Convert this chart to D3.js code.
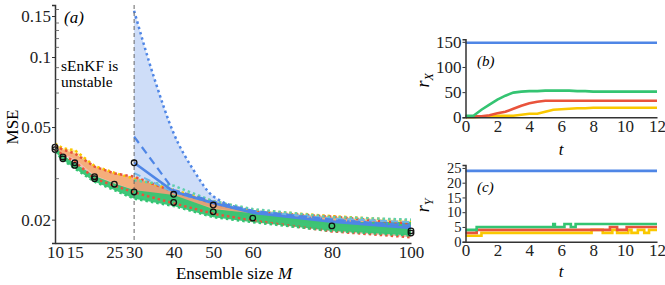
<!DOCTYPE html>
<html>
<head>
<meta charset="utf-8">
<script src="https://cdn.jsdelivr.net/npm/d3@7"></script>
<style>
  body { margin: 0; background: #fff; }
  .axis path, .axis line { stroke: #333; }
  .axis text { fill: #222; }
</style>
</head>
<body>
<div id="chart"></div>
<script>
// ensemble sizes
const ensembleM = [10, 12, 15, 20, 25, 30, 40, 50, 60, 80, 100];
const blueM = [30, 40, 50, 60, 80, 100];
const blueHiM = [30, 35, 40, 45, 50, 60, 80, 100];

// MSE envelopes per method
const yellowHi = [0.0425, 0.0405, 0.0398, 0.0340, 0.0318, 0.0300, 0.0268, 0.0240, 0.0220, 0.0207, 0.0198];
const yellowLo = [0.0405, 0.0385, 0.0365, 0.0310, 0.0288, 0.0268, 0.0240, 0.0218, 0.0205, 0.0188, 0.0178];
const redHi = [0.0415, 0.0400, 0.0385, 0.0338, 0.0316, 0.0306, 0.0264, 0.0235, 0.0216, 0.0206, 0.0192];
const redLo = [0.0400, 0.0380, 0.0355, 0.0300, 0.0280, 0.0262, 0.0235, 0.0212, 0.0198, 0.0178, 0.0168];
const greenHi = [0.0412, 0.0379, 0.0350, 0.0308, 0.0286, 0.0268, 0.0255, 0.0222, 0.0213, 0.0195, 0.0196];
const greenLo = [0.0392, 0.0361, 0.0332, 0.0291, 0.0268, 0.0246, 0.0229, 0.0205, 0.0195, 0.0179, 0.0171];
const tealDot = [0.0295, 0.0280, 0.0240, 0.0222, 0.0205, 0.0200];
const tealDash = [0.0317, 0.0262, 0.0235, 0.0218, 0.0202, 0.0195];
const blueHi = [0.158, 0.082, 0.047, 0.0327, 0.0252, 0.0218, 0.0200, 0.0190];
const blueLo = [0.0270, 0.0250, 0.0225, 0.0212, 0.0196, 0.0185];
const blueDash = [0.0455, 0.0268, 0.0239, 0.0218, 0.0200, 0.0188];
const blueSolid = [0.0351, 0.0264, 0.0236, 0.0214, 0.0196, 0.0184];

// marked points
const circleM = [10, 10, 12, 12, 15, 15, 20, 20, 25, 30, 30, 40, 40, 50, 50, 60, 80, 100, 100];
const circleV = [0.0410, 0.0400, 0.0372, 0.0365, 0.0351, 0.0342, 0.0306, 0.0300, 0.0284, 0.0351, 0.0263,
  0.0257, 0.0237, 0.0231, 0.0216, 0.0203, 0.0188, 0.0179, 0.0175];

const mTicks = [10, 15, 25, 30, 40, 50, 60, 80, 100];
const mseTicks = [0.02, 0.05, 0.1, 0.15];
const mseMinor = [0.03, 0.04, 0.06, 0.07, 0.08, 0.09, 0.11, 0.12, 0.13, 0.14, 0.16];

// panel (b): r_X over time
const tB = [0, 0.5, 1, 1.5, 2, 2.5, 3, 3.5, 4, 4.5, 5, 5.5, 6, 6.5, 7, 7.5, 8, 8.5, 9, 9.5, 10, 10.5, 11, 11.5, 12];
const rxGreen = [3, 3, 15, 25, 35, 43, 49, 51, 52, 52, 53, 53, 53, 53, 52, 52, 51, 51, 51, 51, 51, 51, 51, 51, 51];
const rxRed = [2, 2, 2, 4, 8, 11, 17, 23, 28, 31, 33, 33, 33, 33, 33, 33, 33, 33, 33, 33, 33, 33, 33, 33, 33];
const rxYellow = [0, 0, 1, 2, 3, 3, 3, 5, 7, 7, 11, 15, 16, 17, 18, 18, 19, 19, 19, 19, 19, 19, 19, 19, 19];
const rxBlueT = [0, 12];
const rxBlue = [148, 148];

// panel (c): r_Y step changes
const ryGreenT = [0, 0.7, 5.5, 5.6, 6.2, 6.6, 6.9, 12];
const ryGreen = [4, 5, 6, 5, 6, 5, 6, 6];
const ryRedT = [0, 0.7, 9.05, 9.5, 10.1, 12];
const ryRed = [3, 4, 5, 4, 5, 5];
const ryYellowT = [0, 1.0, 7.9, 8.6, 9.2, 9.5, 10.2, 10.4, 10.8, 11.2, 11.5, 12];
const ryYellow = [2, 3, 4, 3, 4, 3, 4, 3, 4, 3, 4, 4];
const ryBlueT = [0, 12];
const ryBlue = [24, 24];

const tTicks = [0, 2, 4, 6, 8, 10, 12];
const rxTicks = [0, 50, 100, 150];
const ryTicks = [0, 5, 10, 15, 20, 25];

const BLUE = '#4f86e6', RED = '#e9533b', YELLOW = '#fac800', GREEN = '#34c472', TEAL = '#5fcfae';
const FONT = 'Liberation Serif';

const svg = d3.select('#chart').append('svg')
  .attr('width', 665)
  .attr('height', 285)
  .attr('font-family', FONT);

// ---------- panel (a) ----------
const x = d3.scaleLinear().domain([10, 100]).range([55, 411]);
const y = d3.scaleLog().domain([0.01587, 0.1673]).range([243, 5]);

const zip = (ms, vs) => ms.map((m, i) => [m, vs[i]]);

const band = (ms, lo, hi) => d3.area()
  .x((d) => x(d))
  .y0((d, i) => y(lo[i]))
  .y1((d, i) => y(hi[i]))(ms);

const line = d3.line().x((d) => x(d[0])).y((d) => y(d[1]));
const smooth = d3.line().x((d) => x(d[0])).y((d) => y(d[1])).curve(d3.curveMonotoneX);

const gA = svg.append('g');

// blue fill follows the curved upper bound
const blueUpper = zip(blueHiM, blueHi);
const blueLower = zip(blueM, blueLo).reverse();
const blueFill = smooth(blueUpper) + 'L' + line(blueLower).slice(1) + 'Z';

gA.append('path').attr('d', blueFill).attr('fill', BLUE).attr('fill-opacity', 0.28);
gA.append('path').attr('d', band(ensembleM, yellowLo, yellowHi)).attr('fill', YELLOW).attr('fill-opacity', 0.35);
gA.append('path').attr('d', band(ensembleM, redLo, redHi)).attr('fill', RED).attr('fill-opacity', 0.4);
gA.append('path').attr('d', band(ensembleM, greenLo, greenHi)).attr('fill', GREEN).attr('fill-opacity', 0.95);

const dotted = (d, color, w = 2.5) => gA.append('path')
  .attr('d', d)
  .attr('fill', 'none')
  .attr('stroke', color)
  .attr('stroke-width', w)
  .attr('stroke-dasharray', '2.5,3');

dotted(line(zip(ensembleM, yellowHi)), YELLOW);
dotted(line(zip(ensembleM, redHi)), RED);
dotted(line(zip(ensembleM, redLo)), RED);
dotted(line(zip(ensembleM, greenLo)), GREEN);
dotted(line(zip(blueM, tealDot)), TEAL);
dotted(smooth(blueUpper), BLUE);

gA.append('path')
  .attr('d', line(zip(blueM, tealDash)))
  .attr('fill', 'none').attr('stroke', '#6fb6e8').attr('stroke-width', 2)
  .attr('stroke-dasharray', '7,4');
gA.append('path')
  .attr('d', line(zip(blueM, blueDash)))
  .attr('fill', 'none').attr('stroke', BLUE).attr('stroke-width', 2.2)
  .attr('stroke-dasharray', '8,5');
gA.append('path')
  .attr('d', line(zip(blueM, blueSolid)))
  .attr('fill', 'none').attr('stroke', BLUE).attr('stroke-width', 2.6);

// instability threshold
gA.append('line')
  .attr('x1', x(30)).attr('x2', x(30))
  .attr('y1', 5).attr('y2', 243)
  .attr('stroke', '#666').attr('stroke-width', 1)
  .attr('stroke-dasharray', '4,3');

gA.selectAll('circle.mk')
  .data(zip(circleM, circleV))
  .enter().append('circle')
  .attr('class', 'mk')
  .attr('cx', (d) => x(d[0]))
  .attr('cy', (d) => y(d[1]))
  .attr('r', 2.8)
  .attr('fill', 'none')
  .attr('stroke', '#111')
  .attr('stroke-width', 1.3);

// axes
const xAxisA = d3.axisBottom(x).tickValues(mTicks).tickSize(0).tickPadding(3).tickFormat(d3.format('d'));
gA.append('g').attr('class', 'axis').attr('transform', 'translate(0,243)').call(xAxisA)
  .attr('font-family', FONT).attr('font-size', 17)
  .call((g) => g.select('.domain').attr('stroke-width', 1.5));

const yAxisA = d3.axisLeft(y).tickValues(mseTicks).tickSize(3).tickPadding(1).tickFormat((d) => String(d));
gA.append('g').attr('class', 'axis').attr('transform', 'translate(55,0)').call(yAxisA)
  .attr('font-family', FONT).attr('font-size', 17)
  .call((g) => g.select('.domain').attr('stroke-width', 1.5));

gA.append('g').selectAll('line')
  .data(mseMinor)
  .enter().append('line')
  .attr('x1', 55).attr('x2', 59)
  .attr('y1', (d) => y(d)).attr('y2', (d) => y(d))
  .attr('stroke', '#555').attr('stroke-width', 0.8);

gA.append('text').attr('transform', 'translate(18,127) rotate(-90)')
  .attr('text-anchor', 'middle').attr('font-size', 17).text('MSE');

const xl = gA.append('text').attr('x', 234).attr('y', 279)
  .attr('text-anchor', 'middle').attr('font-size', 17);
xl.append('tspan').text('Ensemble size ');
xl.append('tspan').attr('font-style', 'italic').text('M');

gA.append('text').attr('x', 64).attr('y', 23).attr('font-size', 17).attr('font-style', 'italic').text('(a)');

// two-line note
gA.append('text').attr('x', 61).attr('y', 71).attr('font-size', 15.5).text('sEnKF is');
gA.append('text').attr('x', 61).attr('y', 86.5).attr('font-size', 15.5).text('unstable');

// ---------- panels (b) and (c) ----------
const xt = d3.scaleLinear().domain([0, 12]).range([465.5, 657]);

const drawSmall = (yScale, yTicks, bottom, tY, label, sub, series, curve, yFont) => {
  const g = svg.append('g');
  const ln = d3.line().x((d) => xt(d[0])).y((d) => yScale(d[1])).curve(curve);

  series.forEach((s) => {
    g.append('path')
      .attr('d', ln(zip(s.t, s.v)))
      .attr('fill', 'none')
      .attr('stroke', s.color)
      .attr('stroke-width', 2.6);
  });

  g.append('g').attr('class', 'axis').attr('transform', `translate(0,${bottom})`)
    .call(d3.axisBottom(xt).tickValues(tTicks).tickSize(0).tickPadding(2.5))
    .attr('font-family', FONT).attr('font-size', 17)
    .call((a) => a.select('.domain').attr('stroke-width', 1.5));

  g.append('g').attr('class', 'axis').attr('transform', 'translate(465.5,0)')
    .call(d3.axisLeft(yScale).tickValues(yTicks).tickSize(3).tickPadding(1))
    .attr('font-family', FONT).attr('font-size', yFont)
    .call((a) => a.select('.domain').attr('stroke-width', 1.5));

  const top = yScale.range()[1];
  g.append('text').attr('x', 561).attr('y', tY)
    .attr('text-anchor', 'middle').attr('font-size', 17).attr('font-style', 'italic').text('t');

  const yl = g.append('text')
    .attr('transform', `translate(429,${(bottom + top) / 2 + 2}) rotate(-90)`)
    .attr('text-anchor', 'middle').attr('font-size', 18).attr('font-style', 'italic');
  yl.append('tspan').text('r');
  yl.append('tspan').attr('dy', 4).attr('font-size', 12).text(sub);

  g.append('text').attr('x', 477).attr('y', top + 27)
    .attr('font-size', 15).attr('font-style', 'italic').text(label);
};

const yb = d3.scaleLinear().domain([0, 155]).range([117.3, 39.3]);
drawSmall(yb, rxTicks, 117.3, 155, '(b)', 'X', [
  { t: tB, v: rxYellow, color: YELLOW },
  { t: tB, v: rxRed, color: RED },
  { t: tB, v: rxGreen, color: GREEN },
  { t: rxBlueT, v: rxBlue, color: BLUE },
], d3.curveLinear, 17);

const yc = d3.scaleLinear().domain([0, 26]).range([241.7, 165]);
drawSmall(yc, ryTicks, 241.7, 277, '(c)', 'Y', [
  { t: ryYellowT, v: ryYellow, color: YELLOW },
  { t: ryRedT, v: ryRed, color: RED },
  { t: ryGreenT, v: ryGreen, color: GREEN },
  { t: ryBlueT, v: ryBlue, color: BLUE },
], d3.curveStepAfter, 14.5);
</script>
</body>
</html>
